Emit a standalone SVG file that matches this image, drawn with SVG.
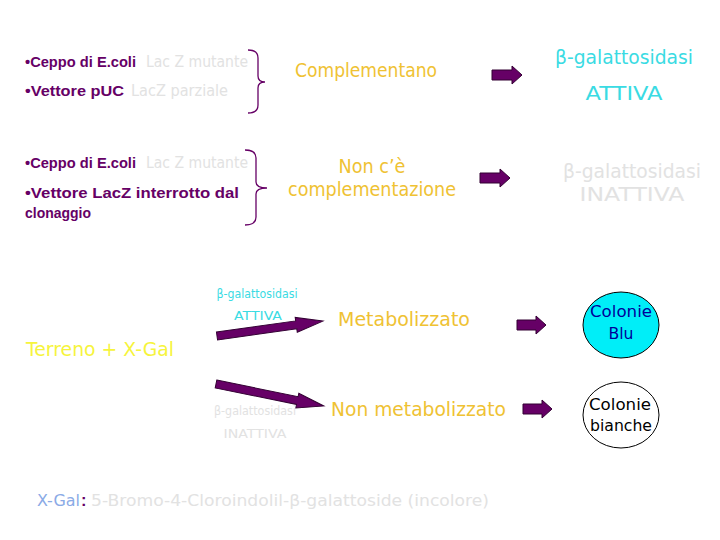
<svg xmlns="http://www.w3.org/2000/svg" width="720" height="540" viewBox="0 0 720 540">
<style>
text{font-family:"DejaVu Sans","Liberation Sans",sans-serif}
.pur{fill:#660066;font-weight:bold;font-family:"Liberation Sans",Arial,sans-serif}
.gry{fill:#e2e2e2}
.org{fill:#efc233}
.cya{fill:#3adbe3}
.yel{fill:#f6f43c}
.brace{fill:none;stroke:#660066;stroke-width:1.3}
.blk{fill:#660066;stroke:#330033;stroke-width:1}
.s14{font-size:15px}
.s18{font-size:19px}
.s12{font-size:12.5px}
.s16{font-size:16.5px}
</style>
<rect width="720" height="540" fill="#ffffff"/>

<g id="group1">
<text class="s14 pur" x="25" y="67" textLength="111" lengthAdjust="spacingAndGlyphs">•Ceppo di E.coli</text>
<text class="s14 gry" x="146" y="67" textLength="102" lengthAdjust="spacingAndGlyphs">Lac Z mutante</text>
<text class="s14 pur" x="25" y="96" textLength="99" lengthAdjust="spacingAndGlyphs">•Vettore pUC</text>
<text class="s14 gry" x="131" y="96" textLength="97" lengthAdjust="spacingAndGlyphs">LacZ parziale</text>
</g>

<g id="group2">
<text class="s14 pur" x="25" y="168" textLength="111" lengthAdjust="spacingAndGlyphs">•Ceppo di E.coli</text>
<text class="s14 gry" x="146" y="168" textLength="102" lengthAdjust="spacingAndGlyphs">Lac Z mutante</text>
<text class="s14 pur" x="25" y="198" textLength="214" lengthAdjust="spacingAndGlyphs">•Vettore LacZ interrotto dal</text>
<text class="s14 pur" x="25" y="218" textLength="66" lengthAdjust="spacingAndGlyphs">clonaggio</text>
</g>

<g id="complementano">
<text class="s18 org" x="295" y="77" textLength="142" lengthAdjust="spacingAndGlyphs">Complementano</text>
</g>

<g id="non-complementazione">
<text class="s18 org" x="372" y="173" text-anchor="middle" textLength="67" lengthAdjust="spacingAndGlyphs">Non c’è</text>
<text class="s18 org" x="372" y="196" text-anchor="middle" textLength="168" lengthAdjust="spacingAndGlyphs">complementazione</text>
</g>

<g id="attiva">
<text class="s18 cya" x="624" y="64" text-anchor="middle" textLength="138" lengthAdjust="spacingAndGlyphs">β-galattosidasi</text>
<text class="s18 cya" x="624" y="100" text-anchor="middle" textLength="77" lengthAdjust="spacingAndGlyphs">ATTIVA</text>
</g>

<g id="inattiva">
<text class="s18 gry" x="632" y="178" text-anchor="middle" textLength="138" lengthAdjust="spacingAndGlyphs">β-galattosidasi</text>
<text class="s18 gry" x="632" y="201" text-anchor="middle" textLength="105" lengthAdjust="spacingAndGlyphs">INATTIVA</text>
</g>

<g id="terreno">
<text class="s18 yel" x="26" y="356" textLength="148" lengthAdjust="spacingAndGlyphs">Terreno + X-Gal</text>
</g>

<g id="label-attiva">
<text class="s12 cya" x="257" y="298" text-anchor="middle" textLength="81" lengthAdjust="spacingAndGlyphs">β-galattosidasi</text>
<text class="s12 cya" x="258" y="320" text-anchor="middle" textLength="48" lengthAdjust="spacingAndGlyphs">ATTIVA</text>
</g>

<g id="label-inattiva">
<text class="s12 gry" x="255" y="415" text-anchor="middle" textLength="82" lengthAdjust="spacingAndGlyphs">β-galattosidasi</text>
<text class="s12 gry" x="255" y="438" text-anchor="middle" textLength="63" lengthAdjust="spacingAndGlyphs">INATTIVA</text>
</g>

<g id="metabolizzato">
<text class="s18 org" x="338" y="326" textLength="132" lengthAdjust="spacingAndGlyphs">Metabolizzato</text>
</g>

<g id="non-metabolizzato">
<text class="s18 org" x="331" y="416" textLength="175" lengthAdjust="spacingAndGlyphs">Non metabolizzato</text>
</g>

<g id="colonie-blu">
<ellipse cx="621" cy="325" rx="38" ry="33" fill="#00eef8" stroke="#000000" stroke-width="1"/>
<text class="s16" fill="#000099" x="621" y="317" text-anchor="middle" textLength="62" lengthAdjust="spacingAndGlyphs">Colonie</text>
<text class="s16" fill="#000099" x="621" y="339" text-anchor="middle" textLength="25" lengthAdjust="spacingAndGlyphs">Blu</text>
</g>

<g id="colonie-bianche">
<ellipse cx="621" cy="415" rx="38" ry="33" fill="#ffffff" stroke="#000000" stroke-width="1"/>
<text class="s16" fill="#000000" x="620" y="410" text-anchor="middle" textLength="62" lengthAdjust="spacingAndGlyphs">Colonie</text>
<text class="s16" fill="#000000" x="621" y="431" text-anchor="middle" textLength="62" lengthAdjust="spacingAndGlyphs">bianche</text>
</g>

<g id="xgal-note">
<text class="s16" fill="#8aaae6" x="37" y="506" textLength="43" lengthAdjust="spacingAndGlyphs">X-Gal</text>
<text class="s16 pur" x="81" y="506">:</text>
<text class="s16 gry" x="91" y="506" textLength="398" lengthAdjust="spacingAndGlyphs">5-Bromo-4-Cloroindolil-β-galattoside (incolore)</text>
</g>

<g id="connectors">
<path class="brace" d="M248 50 Q258 50 258 58 L258 76 Q258 82 265 82 Q258 82 258 88 L258 105 Q258 113 248 113"/>
<path class="brace" d="M245 150 Q256 150 256 158 L256 182 Q256 188 267 188 Q256 188 256 194 L256 217 Q256 225 245 225"/>
<polygon class="blk" points="492,70 512,70 512,66 522,75 512,84 512,80 492,80"/>
<polygon class="blk" points="480,173 500,173 500,169 510,178 500,187 500,183 480,183"/>
<polygon class="blk" points="517,320 536,320 536,316 546,325 536,334 536,330 517,330"/>
<polygon class="blk" points="523,404 542,404 542,400 552,409 542,418 542,414 523,414"/>
<polygon class="blk" transform="translate(217,336) rotate(-8)" points="0,-4 80,-4 80,-7.5 107,0 80,7.5 80,4 0,4"/>
<polygon class="blk" transform="translate(216,384) rotate(11.5)" points="0,-4 83,-4 83,-7.5 110,0 83,7.5 83,4 0,4"/>
</g>
</svg>
